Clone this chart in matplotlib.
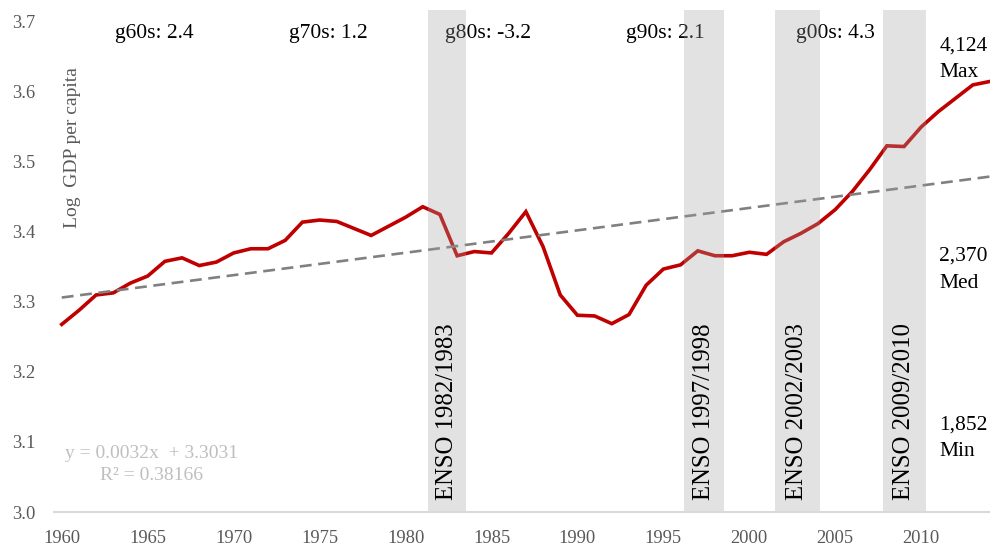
import numpy as np
import matplotlib
matplotlib.use('Agg')
from matplotlib import pyplot as plt

plt.rcParams['font.family'] = ['Liberation Serif', 'DejaVu Serif']

# log GDP per capita, 1960-2014
years = np.arange(1960, 2015)
gdp = [3.268, 3.288, 3.310, 3.313, 3.327, 3.337, 3.358, 3.363, 3.352, 3.357,
       3.370, 3.376, 3.376, 3.388, 3.414, 3.417, 3.415, 3.405, 3.395, 3.408,
       3.421, 3.436, 3.425, 3.366, 3.372, 3.370, 3.398, 3.429, 3.379, 3.310,
       3.281, 3.280, 3.269, 3.282, 3.324, 3.347, 3.353, 3.373, 3.366, 3.366,
       3.371, 3.368, 3.386, 3.398, 3.412, 3.432, 3.458, 3.489, 3.523, 3.522,
       3.550, 3.572, 3.591, 3.610, 3.615]

# linear trend (x = 1..n) as reported on the chart
slope, intercept, r2 = 0.0032, 3.3031, 0.38166

# ENSO episodes (shaded spans)
enso_labels = ['ENSO 1982/1983', 'ENSO 1997/1998', 'ENSO 2002/2003', 'ENSO 2009/2010']
enso_start = [1981.3, 1996.2, 2001.5, 2007.8]
enso_end = [1983.5, 1998.55, 2004.1, 2010.25]

# decade growth labels
decade_labels = ['g60s: 2.4', 'g70s: 1.2', 'g80s: -3.2', 'g90s: 2.1', 'g00s: 4.3']
decade_x = [1965.4, 1975.5, 1984.8, 1995.1, 2005.0]

# level annotations on the right
level_labels = ['4,124\nMax', '2,370\nMed', '1,852\nMin']
level_y = [3.647, 3.346, 3.105]

fig = plt.figure(figsize=(9.9, 5.46), dpi=100)
ax = fig.add_axes([54 / 990, 34 / 546, 1 - 54 / 990, 502 / 546])

ax.plot(years, gdp, color='#C00000', lw=2.6, zorder=2, solid_joinstyle='miter')

idx = np.arange(1, len(years) + 1)
ax.plot(years, slope * idx + intercept, color='#808080', lw=1.9,
        dashes=(4.5, 2.5), zorder=3)

for lab, s, e in zip(enso_labels, enso_start, enso_end):
    ax.axvspan(s, e, color='#A0A0A0', alpha=0.3, lw=0, zorder=4)
    ax.text((s + e) / 2, 3.017, lab, rotation=90, ha='center', va='bottom',
            fontsize=17.8, color='black', zorder=5)

for lab, x in zip(decade_labels, decade_x):
    ax.text(x, 3.684, lab, ha='center', va='center', fontsize=15.5, color='black')

for lab, y in zip(level_labels, level_y):
    ax.text(2011.05, y, lab, ha='left', va='center', fontsize=15.5,
            color='black', linespacing=1.55)

ax.text(1965.25, 3.068, 'y = 0.0032x  + 3.3031\nR² = {:.5f}'.format(r2),
        ha='center', va='center', fontsize=14, color='#BFBFBF', linespacing=1.4)

ax.text(1960.6, 3.52, 'Log  GDP per capita', rotation=90, ha='center',
        va='center', fontsize=14, color='#595959')

ax.set_xlim(1959.55, 2014.0)
ax.set_ylim(3.0, 3.717)
ax.set_xticks(np.arange(1960, 2011, 5))
ax.set_yticks(np.arange(3.0, 3.71, 0.1))
ax.set_yticklabels(['{:.1f}'.format(v) for v in np.arange(3.0, 3.71, 0.1)])
ax.tick_params(length=0, labelsize=13.3, colors='#595959')
ax.tick_params(axis='y', pad=13.5)
ax.tick_params(axis='x', pad=13)

for side in ['top', 'right', 'left']:
    ax.spines[side].set_visible(False)
ax.spines['bottom'].set_color('#D9D9D9')
ax.spines['bottom'].set_linewidth(1.5)
ax.spines['bottom'].set_zorder(6)

fig.savefig('out.png', dpi=100)
